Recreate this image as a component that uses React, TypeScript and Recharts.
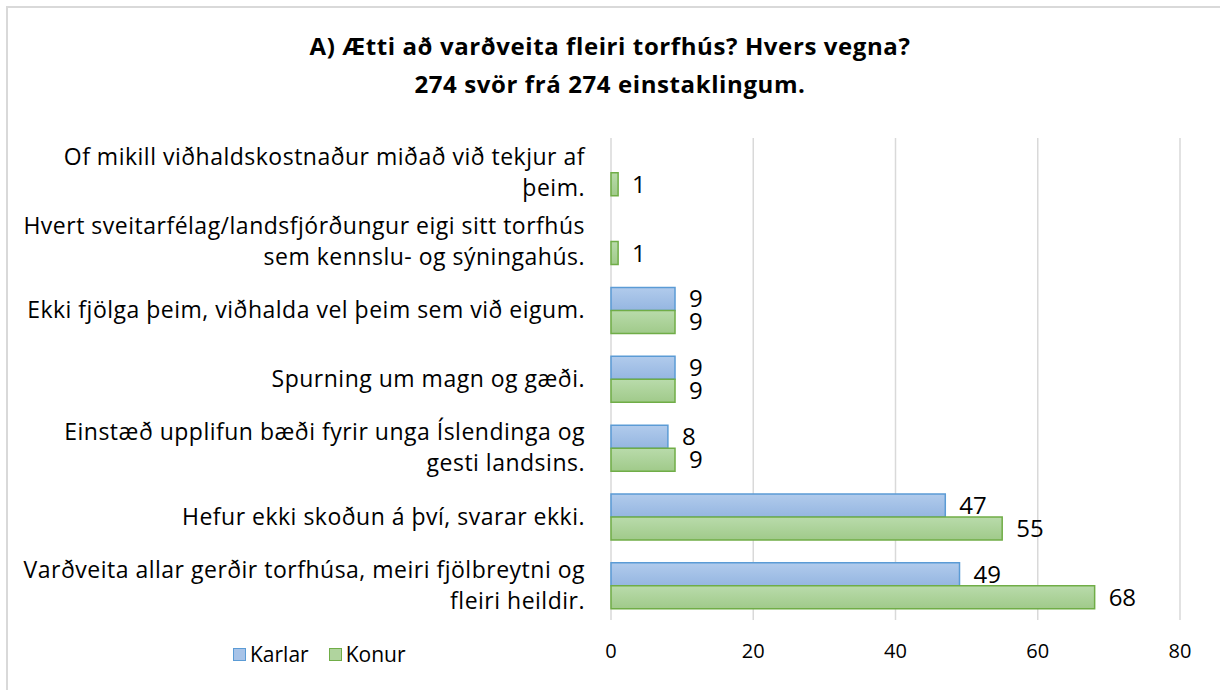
import React from "react";
import {
  BarChart, Bar, XAxis, YAxis, CartesianGrid, LabelList,
} from "recharts";

const categories = [
  "Of mikill viðhaldskostnaður miðað við tekjur af\nþeim.",
  "Hvert sveitarfélag/landsfjórðungur eigi sitt torfhús\nsem kennslu- og sýningahús.",
  "Ekki fjölga þeim, viðhalda vel þeim sem við eigum.",
  "Spurning um magn og gæði.",
  "Einstæð upplifun bæði fyrir unga Íslendinga og\ngesti landsins.",
  "Hefur ekki skoðun á því, svarar ekki.",
  "Varðveita allar gerðir torfhúsa, meiri fjölbreytni og\nfleiri heildir.",
];
const karlar = [null, null, 9, 9, 8, 47, 49];
const konur = [1, 1, 9, 9, 9, 55, 68];
const xTicks = [0, 20, 40, 60, 80];

const data = categories.map((name, i) => ({ name, karlar: karlar[i], konur: konur[i] }));

const FONT = "'Open Sans', 'Noto Sans', sans-serif";

function CategoryTick({ x, y, payload }: any) {
  const lines: string[] = String(payload.value).split("\n");
  const lh = 31;
  const start = y - ((lines.length - 1) * lh) / 2;
  return (
    <text x={x} textAnchor="end" fontSize={23} letterSpacing={0.5} fill="#000" fontFamily={FONT}>
      {lines.map((l, i) => (
        <tspan key={i} x={x} y={start + i * lh} dy="0.35em">{l}</tspan>
      ))}
    </text>
  );
}

const legendItems = [
  { label: "Karlar", fill: "#a7c3e8", stroke: "#5b9bd5" },
  { label: "Konur", fill: "#b0d49e", stroke: "#70ad47" },
];

const hideEmpty = (v: any) => (v == null ? "" : v);

export default function App() {
  return (
    <div style={{ position: "fixed", top: 0, left: 0, width: 1220, height: 690, background: "#fff", overflow: "hidden" }}>
      <div style={{ position: "absolute", left: 6, top: 6, width: 1230, height: 700, border: "2px solid #d9d9d9" }} />
      <div style={{
        position: "absolute", top: 27, left: 0, width: 1220, textAlign: "center",
        fontFamily: FONT, fontWeight: 700, fontSize: 24, letterSpacing: 0.6, lineHeight: "38px", color: "#000",
      }}>
        A) Ætti að varðveita fleiri torfhús? Hvers vegna?<br />274 svör frá 274 einstaklingum.
      </div>
      <div style={{ position: "absolute", left: 233, top: 640, display: "flex", gap: 20, fontFamily: FONT, fontSize: 21, color: "#000" }}>
        {legendItems.map((it) => (
          <div key={it.label} style={{ display: "flex", alignItems: "center", gap: 4 }}>
            <span style={{ width: 11, height: 11, background: it.fill, border: `1.5px solid ${it.stroke}`, display: "inline-block" }} />
            <span>{it.label}</span>
          </div>
        ))}
      </div>
      <div style={{ position: "absolute", left: 0, top: 0 }}>
        <BarChart
          width={1220}
          height={690}
          data={data}
          layout="vertical"
          margin={{ top: 138, right: 40, bottom: 10, left: 0 }}
          barCategoryGap="17%"
          barGap={0}
        >
          <defs>
            <linearGradient id="gBlue" x1="0" y1="0" x2="0" y2="1">
              <stop offset="0%" stopColor="#b1cbec" />
              <stop offset="100%" stopColor="#95b6e1" />
            </linearGradient>
            <linearGradient id="gGreen" x1="0" y1="0" x2="0" y2="1">
              <stop offset="0%" stopColor="#b9dbab" />
              <stop offset="100%" stopColor="#a0ca8a" />
            </linearGradient>
          </defs>
          <CartesianGrid horizontal={false} stroke="#d9d9d9" strokeWidth={1.5} />
          <XAxis
            type="number"
            domain={[0, 80]}
            ticks={xTicks}
            axisLine={false}
            tickLine={false}
            tickSize={0}
            tickMargin={24}
            height={60}
            tick={{ fontSize: 20, fill: "#000", fontFamily: FONT }}
          />
          <YAxis
            type="category"
            dataKey="name"
            width={611}
            axisLine={false}
            tickLine={false}
            tickSize={0}
            tickMargin={26}
            tick={<CategoryTick />}
            interval={0}
          />
          <Bar dataKey="karlar" name="Karlar" fill="url(#gBlue)" stroke="#5b9bd5" strokeWidth={1.5} isAnimationActive={false}>
            <LabelList dataKey="karlar" position="right" offset={14} formatter={hideEmpty} fill="#000" fontSize={24} fontFamily={FONT} />
          </Bar>
          <Bar dataKey="konur" name="Konur" fill="url(#gGreen)" stroke="#70ad47" strokeWidth={1.5} isAnimationActive={false}>
            <LabelList dataKey="konur" position="right" offset={14} formatter={hideEmpty} fill="#000" fontSize={24} fontFamily={FONT} />
          </Bar>
        </BarChart>
      </div>
    </div>
  );
}
